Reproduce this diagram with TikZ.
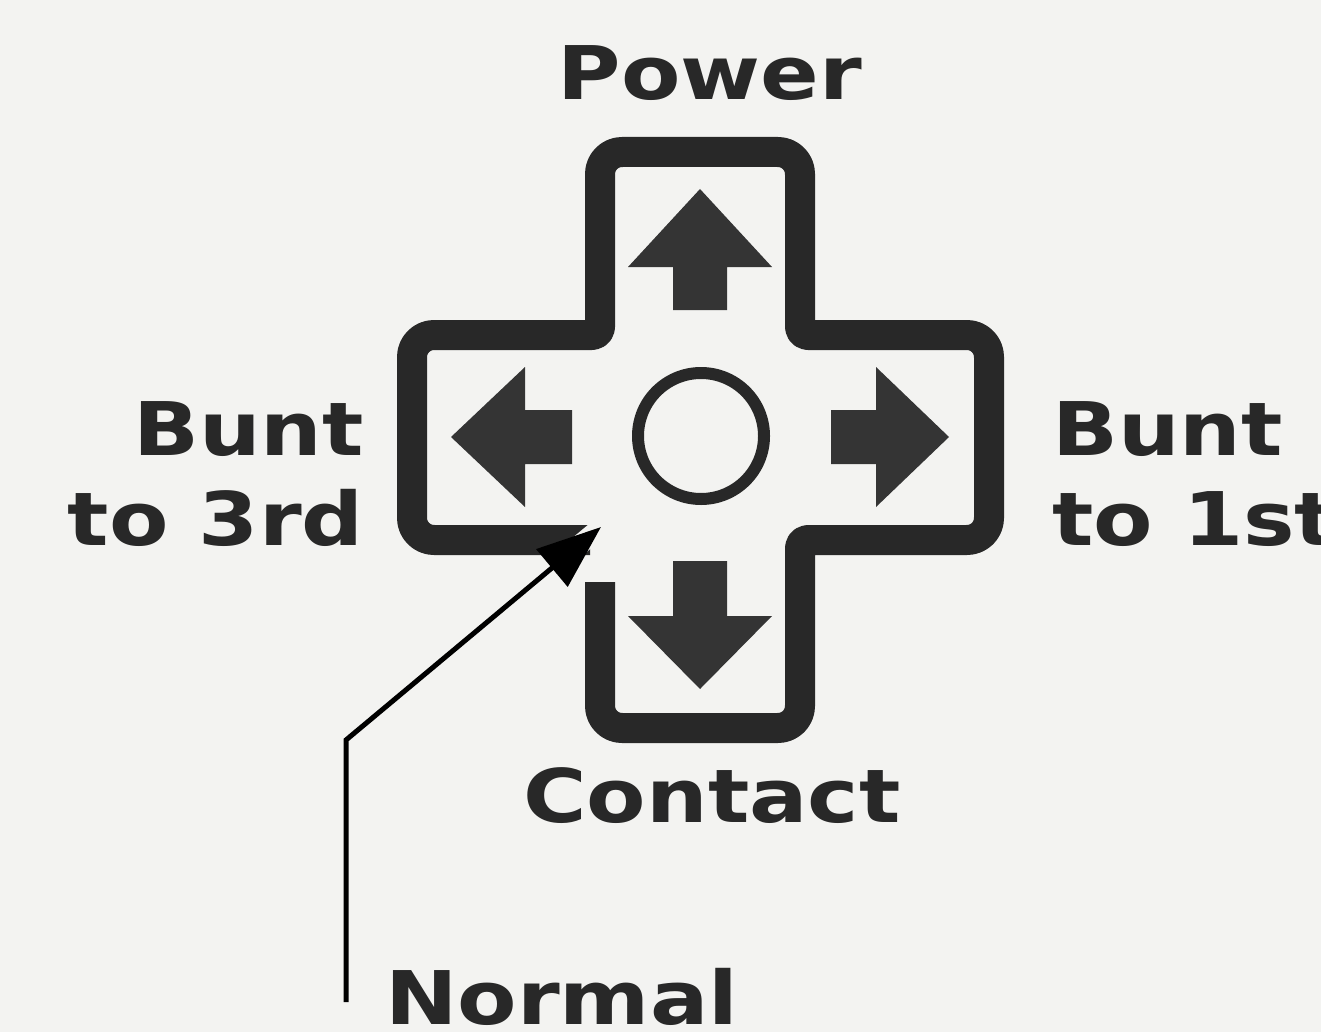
\documentclass[tikz,border=0pt]{standalone}
\usepackage{fontspec}
\newfontfamily\pixfont{DejaVu Sans}[FakeStretch=1.17]
\usetikzlibrary{arrows.meta}
\definecolor{bg}{RGB}{243,243,241}
\definecolor{ink}{RGB}{40,40,40}
\definecolor{arrowink}{RGB}{52,52,52}
\begin{document}
\begin{tikzpicture}[x=1pt,y=-1pt,
  lbl/.style={font=\pixfont\bfseries\fontsize{74}{80}\selectfont, text=ink, inner sep=0pt},
  crossline/.style={draw=ink, line width=30pt, line join=round},
  padarrow/.style={fill=arrowink, draw=none},
  pointer/.style={draw=black, line width=5pt},
  halo/.style={draw=bg, line width=20pt}]
\fill[bg] (0,0) rectangle (1321,1032);
\useasboundingbox (0,0) rectangle (1321,1032);
\clip (0,0) rectangle (1321,1032);

% cross outline (open at the lower-left inner corner)
\draw[crossline] (600,582)
  [rounded corners=22pt] -- (600,728) -- (800,728)
  [rounded corners=8pt] -- (800,540)
  [rounded corners=22pt] -- (989,540) -- (989,335)
  [rounded corners=8pt] -- (800,335)
  [rounded corners=22pt] -- (800,152) -- (600,152)
  [rounded corners=8pt] -- (600,335)
  [rounded corners=22pt] -- (412,335) -- (412,540)
  -- (590,540);

% direction arrows
\fill[padarrow] (700,189) -- (772,267) -- (727,267) -- (727,310) -- (673,310) -- (673,267) -- (628,267) -- cycle;
\fill[padarrow] (700,689) -- (772,616) -- (727,616) -- (727,561) -- (673,561) -- (673,616) -- (628,616) -- cycle;
\fill[padarrow] (451,437) -- (525,367) -- (525,410) -- (572,410) -- (572,464) -- (525,464) -- (525,507) -- cycle;
\fill[padarrow] (949,437) -- (876,367) -- (876,410) -- (831,410) -- (831,464) -- (876,464) -- (876,507) -- cycle;

% centre button
\node[draw=ink, line width=12pt, circle, minimum size=126pt, inner sep=0pt] (btn) at (701,436) {};

% labels
\node[lbl, anchor=base] (power) at (710,100) {Power};
\node[lbl, anchor=base east] (bunt3a) at (364,455) {Bunt};
\node[lbl, anchor=base east] (bunt3b) at (364,545) {to 3rd};
\node[lbl, anchor=base west] (bunt1a) at (1052,455) {Bunt};
\node[lbl, anchor=base west] (bunt1b) at (1052,545) {to 1st};
\node[lbl, anchor=base] (contact) at (712,822) {Contact};
\node[lbl, anchor=base west] (normal) at (385,1024) {Normal};

% pointer for "Normal"
\coordinate (nbot) at (346,1002);
\coordinate (nbend) at (346,740);
\coordinate (ntip) at (601,527);
\draw[halo, shorten <=150pt] (nbend) -- (ntip);
\draw[pointer, line join=miter, -{Triangle[length=64pt,width=48pt]}] (nbot) -- (nbend) -- (ntip);
\end{tikzpicture}
\end{document}
